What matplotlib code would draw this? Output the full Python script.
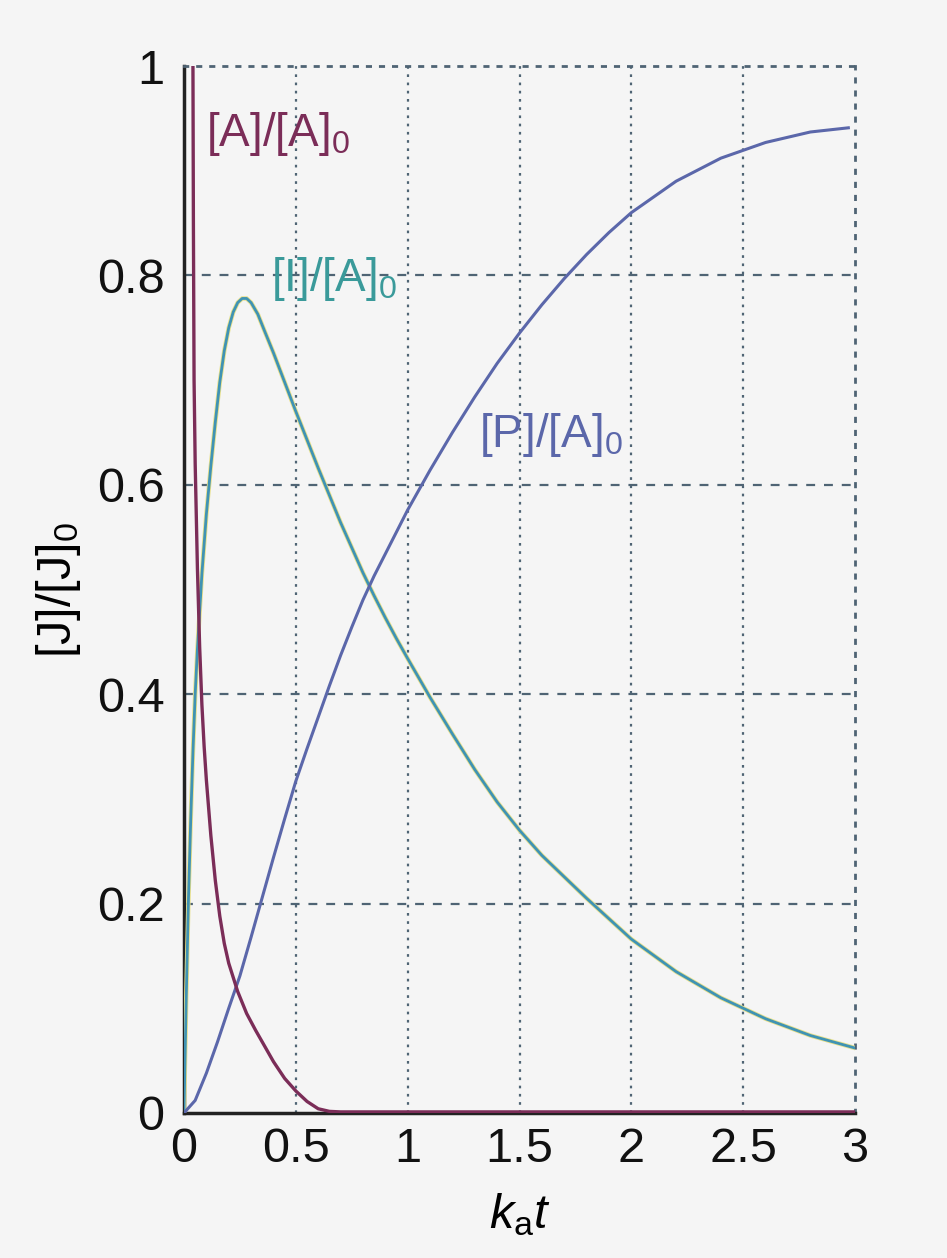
import matplotlib
matplotlib.use("Agg")
import matplotlib.pyplot as plt

# ---- data ----
t_A = [0.040, 0.042, 0.045, 0.050, 0.060, 0.070, 0.080, 0.090, 0.100, 0.120, 0.140, 0.160,
       0.180, 0.200, 0.240, 0.280, 0.320, 0.360, 0.400, 0.450, 0.500, 0.550, 0.600, 0.650,
       0.700, 1.000, 2.000, 3.000]
A = [1.000, 0.850, 0.700, 0.620, 0.520, 0.445, 0.390, 0.350, 0.318, 0.265, 0.222, 0.188,
     0.162, 0.143, 0.116, 0.095, 0.079, 0.064, 0.049, 0.033, 0.021, 0.011, 0.004, 0.0015,
     0.001, 0.001, 0.001, 0.001]

t_I = [0.00, 0.01, 0.02, 0.03, 0.04, 0.05, 0.06, 0.08, 0.10, 0.12, 0.14, 0.16, 0.18, 0.20,
       0.22, 0.24, 0.26, 0.28, 0.30, 0.33, 0.36, 0.40, 0.45, 0.50, 0.55, 0.60, 0.65, 0.70,
       0.75, 0.80, 0.85, 0.90, 0.95, 1.00, 1.10, 1.20, 1.30, 1.40, 1.50, 1.60, 1.80, 2.00,
       2.20, 2.40, 2.60, 2.80, 3.00]
I = [0.000, 0.110, 0.205, 0.280, 0.345, 0.400, 0.443, 0.515, 0.572, 0.618, 0.660, 0.698,
     0.728, 0.750, 0.765, 0.774, 0.778, 0.778, 0.774, 0.763, 0.747, 0.726, 0.698, 0.670,
     0.643, 0.616, 0.590, 0.564, 0.540, 0.516, 0.494, 0.473, 0.453, 0.434, 0.397, 0.362,
     0.328, 0.297, 0.270, 0.246, 0.205, 0.166, 0.135, 0.110, 0.090, 0.074, 0.062]

t_P = [0.00, 0.05, 0.10, 0.15, 0.20, 0.25, 0.30, 0.35, 0.40, 0.45, 0.50, 0.55, 0.60, 0.65,
       0.70, 0.75, 0.80, 0.85, 0.90, 0.95, 1.00, 1.10, 1.20, 1.30, 1.40, 1.50, 1.60, 1.70,
       1.80, 1.90, 2.00, 2.20, 2.40, 2.60, 2.80, 2.97]
P = [0.000, 0.012, 0.038, 0.068, 0.100, 0.131, 0.168, 0.206, 0.244, 0.281, 0.317, 0.348,
     0.378, 0.408, 0.437, 0.464, 0.490, 0.513, 0.534, 0.555, 0.576, 0.614, 0.650, 0.684,
     0.716, 0.745, 0.772, 0.797, 0.820, 0.841, 0.860, 0.890, 0.912, 0.927, 0.937, 0.941]

x_ticks = [0, 0.5, 1, 1.5, 2, 2.5, 3]
x_ticklabels = ["0", "0.5", "1", "1.5", "2", "2.5", "3"]
y_ticks = [0, 0.2, 0.4, 0.6, 0.8, 1]
y_ticklabels = ["0", "0.2", "0.4", "0.6", "0.8", "1"]

col_A = "#7b2d58"
col_I = "#3f93b4"
col_I_label = "#3a9a9a"
col_P = "#5b67aa"
grid_col = "#4f6474"

plt.rcParams["font.family"] = ["Liberation Sans", "DejaVu Sans"]
plt.rcParams["mathtext.fontset"] = "custom"
plt.rcParams["mathtext.rm"] = "Liberation Sans"
plt.rcParams["mathtext.it"] = "Liberation Sans:italic"
plt.rcParams["mathtext.bf"] = "Liberation Sans:bold"

fig = plt.figure(figsize=(9.47, 12.58), dpi=100)
fig.patch.set_facecolor("#f5f5f5")
ax = fig.add_axes([0.1943, 0.1153, 0.7086, 0.8322])
ax.set_facecolor("#f5f5f5")

ax.set_xlim(0, 3)
ax.set_ylim(0, 1)

# grid: dashed horizontal, dotted vertical
for yv in [0.2, 0.4, 0.6, 0.8]:
    ax.axhline(yv, color=grid_col, lw=1.6, ls=(0, (4, 4)), zorder=1)
for xv in [0.5, 1, 1.5, 2, 2.5]:
    ax.axvline(xv, color=grid_col, lw=1.6, ls=(0, (1.2, 2.5)), zorder=1)

for side in ["top", "right"]:
    ax.spines[side].set_linestyle((0, (1.2, 3.5)))
    ax.spines[side].set_color(grid_col)
    ax.spines[side].set_linewidth(2.0)
for side in ["left", "bottom"]:
    ax.spines[side].set_color("#222222")
    ax.spines[side].set_linewidth(2.5)

# curves
ax.plot(t_I, I, color="#e8e08a", lw=3.2, zorder=3, solid_capstyle="round")
ax.plot(t_I, I, color=col_I, lw=2.0, zorder=4)
ax.plot(t_P, P, color=col_P, lw=2.2, zorder=4)
ax.plot(t_A, A, color=col_A, lw=2.4, zorder=5)

ax.set_xticks(x_ticks)
ax.set_xticklabels(x_ticklabels)
ax.set_yticks(y_ticks)
ax.set_yticklabels(y_ticklabels)
ax.tick_params(axis="both", length=0, labelsize=35, colors="#111111")
ax.tick_params(axis="y", pad=14)
ax.tick_params(axis="x", pad=10)

ax.set_xlabel(r"$k_{\mathrm{a}}t$", fontsize=35, labelpad=14)
ax.set_ylabel(r"[J]/[J]$_{\mathrm{0}}$", fontsize=35, labelpad=10)

ax.text(0.10, 0.935, r"[A]/[A]$_{\mathrm{0}}$", color=col_A, fontsize=33,
        ha="left", va="center", zorder=6)
ax.text(0.39, 0.797, r"[I]/[A]$_{\mathrm{0}}$", color=col_I_label, fontsize=33,
        ha="left", va="center", zorder=6)
ax.text(1.32, 0.648, r"[P]/[A]$_{\mathrm{0}}$", color=col_P, fontsize=33,
        ha="left", va="center", zorder=6)

fig.savefig("out.png", dpi=100, facecolor=fig.get_facecolor())
